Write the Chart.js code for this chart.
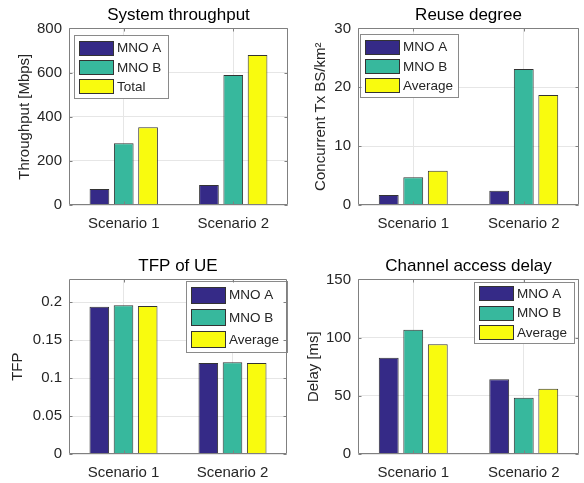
<!DOCTYPE html>
<html>
<head>
<meta charset="utf-8">
<script src="https://cdn.jsdelivr.net/npm/chart.js@4/dist/chart.umd.min.js"></script>
<style>
body { margin: 0; background: #fff; }
.panel { position: absolute; }
</style>
</head>
<body>
<div class="panel" style="left:0;top:0;width:292px;height:240px"><canvas id="throughput"></canvas></div>
<div class="panel" style="left:292px;top:0;width:292px;height:240px"><canvas id="reuse"></canvas></div>
<div class="panel" style="left:0;top:240px;width:292px;height:243px"><canvas id="tfp"></canvas></div>
<div class="panel" style="left:292px;top:240px;width:292px;height:243px"><canvas id="delay"></canvas></div>
<script>
// data
const scenarios = ['Scenario 1', 'Scenario 2'];
const namesTotal = ['MNO A', 'MNO B', 'Total'];
const namesAvg = ['MNO A', 'MNO B', 'Average'];

const throughputA = [72, 91];
const throughputB = [280, 589];
const throughputTotal = [352, 679];

const reuseA = [1.7, 2.4];
const reuseB = [4.7, 23.1];
const reuseAvg = [5.8, 18.7];

const tfpA = [0.194, 0.120];
const tfpB = [0.196, 0.121];
const tfpAvg = [0.195, 0.120];

const delayA = [82.6, 64.3];
const delayB = [106.7, 48.4];
const delayAvg = [94.2, 56.1];

const throughputTicks = [0, 200, 400, 600, 800];
const reuseTicks = [0, 10, 20, 30];
const tfpTicks = [0, 0.05, 0.1, 0.15, 0.2];
const delayTicks = [0, 50, 100, 150];

const colors = ['#352a87', '#37b89d', '#f9fb0e'];
const FONT = "'Liberation Sans', Arial, sans-serif";
const TEXT = '#262626';
const AXIS = '#808080';

// matlab style box around the axes with inward tick marks
const axesBox = {
    id: 'axesBox',
    afterDraw(chart) {
        const ctx = chart.ctx, a = chart.chartArea;
        const l = Math.round(a.left) + 0.5, r = Math.round(a.right) - 0.5;
        const t = Math.round(a.top) + 0.5, b = Math.round(a.bottom) - 0.5;
        ctx.save();
        ctx.strokeStyle = AXIS;
        ctx.lineWidth = 1;
        ctx.beginPath();
        ctx.rect(l, t, r - l, b - t);
        chart.scales.y.ticks.forEach(tk => {
            const y = Math.round(chart.scales.y.getPixelForValue(tk.value)) + 0.5;
            ctx.moveTo(l, y); ctx.lineTo(l + 3, y);
            ctx.moveTo(r, y); ctx.lineTo(r - 3, y);
        });
        chart.scales.x.ticks.forEach((tk, i) => {
            const x = Math.round(chart.scales.x.getPixelForTick(i)) + 0.5;
            ctx.moveTo(x, b); ctx.lineTo(x, b - 3);
            ctx.moveTo(x, t); ctx.lineTo(x, t + 3);
        });
        ctx.stroke();
        ctx.restore();
    }
};

// legend drawn inside the axes, like matlab
const boxLegend = {
    id: 'boxLegend',
    afterDatasetsDraw(chart, args, o) {
        const ctx = chart.ctx, a = chart.chartArea;
        const sets = chart.data.datasets;
        const h = o.pad * 2 + o.rowH * sets.length;
        const x = o.side === 'left' ? a.left + o.dx : a.right - o.dx - o.width;
        const y = a.top + o.dy;
        ctx.save();
        ctx.fillStyle = '#fff';
        ctx.fillRect(x, y, o.width, h);
        ctx.strokeStyle = '#8a8a8a';
        ctx.lineWidth = 1;
        ctx.strokeRect(Math.round(x) + 0.5, Math.round(y) + 0.5, Math.round(o.width), Math.round(h));
        ctx.font = '13.5px ' + FONT;
        ctx.textBaseline = 'middle';
        sets.forEach((ds, i) => {
            const cy = y + o.pad + o.rowH * i + o.rowH / 2;
            const px = Math.round(x + 5), py = Math.round(cy - o.patchH / 2);
            ctx.fillStyle = ds.backgroundColor;
            ctx.fillRect(px, py, 34, o.patchH);
            ctx.strokeStyle = '#333';
            ctx.strokeRect(px + 0.5, py + 0.5, 34, o.patchH);
            ctx.fillStyle = TEXT;
            ctx.fillText(ds.label, px + 38, cy + 1);
        });
        ctx.restore();
    }
};

function makeChart(id, names, series, yTicks, yMax, yTitle, cfg) {
    const ctx = document.getElementById(id).getContext('2d');
    return new Chart(ctx, {
        type: 'bar',
        data: {
            labels: scenarios,
            datasets: series.map((d, i) => ({
                label: names[i],
                data: d,
                backgroundColor: colors[i],
                borderColor: '#333333',
                borderWidth: 1,
                categoryPercentage: 0.666,
                barPercentage: 0.81
            }))
        },
        plugins: [axesBox, boxLegend],
        options: {
            responsive: true,
            maintainAspectRatio: false,
            animation: false,
            layout: { padding: { top: cfg.top, right: cfg.right, left: 0, bottom: 0 } },
            plugins: {
                legend: { display: false },
                tooltip: { enabled: false },
                title: {
                    display: true,
                    text: cfg.title,
                    fullSize: false,
                    color: '#000',
                    font: { family: FONT, size: 17, weight: 'normal' },
                    padding: { top: 0, bottom: 3 }
                },
                boxLegend: cfg.legend
            },
            scales: {
                x: {
                    offset: true,
                    grid: { color: '#e6e6e6', offset: false, drawTicks: false },
                    border: { display: false },
                    ticks: { color: TEXT, font: { family: FONT, size: 15 }, padding: 10, maxRotation: 0 },
                    afterFit: s => { s.height = cfg.xHeight; }
                },
                y: {
                    min: 0,
                    max: yMax,
                    grid: { color: '#e6e6e6', drawTicks: false },
                    border: { display: false },
                    ticks: {
                        color: TEXT,
                        font: { family: FONT, size: 15 },
                        padding: 7,
                        callback: v => String(v)
                    },
                    afterBuildTicks: s => { s.ticks = yTicks.map(v => ({ value: v })); },
                    afterFit: s => { s.width = cfg.yWidth; },
                    title: {
                        display: true,
                        text: yTitle,
                        color: TEXT,
                        font: { family: FONT, size: 15 },
                        padding: { top: cfg.titlePad, bottom: 0 }
                    }
                }
            }
        }
    });
}

makeChart('throughput', namesTotal, [throughputA, throughputB, throughputTotal],
    throughputTicks, 800, 'Throughput [Mbps]', {
        title: 'System throughput', top: 5, right: 4, xHeight: 35, yWidth: 69, titlePad: 16,
        legend: { side: 'left', dx: 5, dy: 7, width: 94, rowH: 19.4, patchH: 14, pad: 2.5 }
    });

makeChart('reuse', namesAvg, [reuseA, reuseB, reuseAvg],
    reuseTicks, 30, 'Concurrent Tx BS/km\u00b2', {
        title: 'Reuse degree', top: 5, right: 5, xHeight: 35, yWidth: 66, titlePad: 20,
        legend: { side: 'left', dx: 2, dy: 6, width: 98, rowH: 19.4, patchH: 14, pad: 2.5 }
    });

makeChart('tfp', namesAvg, [tfpA, tfpB, tfpAvg],
    tfpTicks, 0.23, 'TFP', {
        title: 'TFP of UE', top: 16, right: 5, xHeight: 29, yWidth: 69, titlePad: 9,
        legend: { side: 'right', dx: 0, dy: 2, width: 101, rowH: 22.3, patchH: 16, pad: 2 }
    });

makeChart('delay', namesAvg, [delayA, delayB, delayAvg],
    delayTicks, 150, 'Delay [ms]', {
        title: 'Channel access delay', top: 16, right: 5, xHeight: 29, yWidth: 66, titlePad: 13,
        legend: { side: 'right', dx: 4.7, dy: 2.7, width: 100, rowH: 19.2, patchH: 14, pad: 1.7 }
    });
</script>
</body>
</html>
